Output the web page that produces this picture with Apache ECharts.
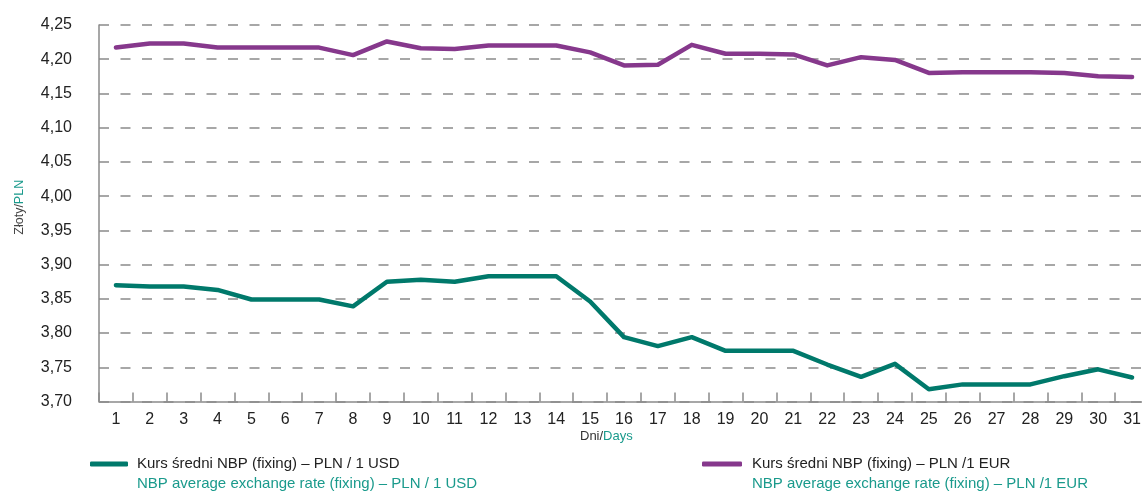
<!DOCTYPE html>
<html>
<head>
<meta charset="utf-8">
<script src="https://cdn.jsdelivr.net/npm/echarts@6/dist/echarts.min.js"></script>
<style>
html,body{margin:0;padding:0;background:#fff;}
#c{width:1142px;height:494px;}
</style>
</head>
<body>
<div id="c"></div>
<script>
const days = ['1','2','3','4','5','6','7','8','9','10','11','12','13','14','15','16','17','18','19','20','21','22','23','24','25','26','27','28','29','30','31'];
const usd = [3.870,3.868,3.868,3.863,3.849,3.849,3.849,3.839,3.875,3.878,3.875,3.883,3.883,3.883,3.846,3.794,3.781,3.794,3.774,3.774,3.774,3.754,3.736,3.755,3.718,3.725,3.725,3.725,3.737,3.747,3.735];
const eur = [4.217,4.223,4.223,4.217,4.217,4.217,4.217,4.206,4.226,4.216,4.215,4.220,4.220,4.220,4.210,4.191,4.192,4.221,4.208,4.208,4.207,4.191,4.203,4.199,4.180,4.181,4.181,4.181,4.180,4.175,4.174];
const usdName = 'Kurs średni NBP (fixing) – PLN / 1 USD';
const eurName = 'Kurs średni NBP (fixing) – PLN /1 EUR';
const usdName2 = 'NBP average exchange rate (fixing) – PLN / 1 USD';
const eurName2 = 'NBP average exchange rate (fixing) – PLN /1 EUR';

const FONT = '"Liberation Sans", Arial, sans-serif';
const TEAL = '#00796B';
const TEAL_T = '#1A9A8C';
const PURPLE = '#86388C';
const GRID = '#8a8a8a';

const chart = echarts.init(document.getElementById('c'), null, {renderer:'canvas'});
chart.setOption({
  animation: false,
  backgroundColor: '#fff',
  textStyle: {fontFamily: FONT},
  grid: {left: 99, top: 25, width: 1050, height: 376.5, containLabel: false, outerBoundsMode: 'none'},
  title: [
    {text: usdName2, left: 137, top: 475, textStyle: {fontFamily: FONT, fontSize: 15, fontWeight: 'normal', color: TEAL_T, lineHeight: 18}, padding: 0},
    {text: eurName2, left: 752, top: 475, textStyle: {fontFamily: FONT, fontSize: 15, fontWeight: 'normal', color: TEAL_T, lineHeight: 18}, padding: 0},
    {text: '{a|Dni/}{b|Days}', left: 580, top: 430, padding: 0,
     textStyle: {fontFamily: FONT, fontSize: 13, fontWeight: 'normal',
       rich: {a: {color: '#333', fontFamily: FONT, fontSize: 13}, b: {color: TEAL_T, fontFamily: FONT, fontSize: 13}}}}
  ],
  legend: [
    {data: [usdName], left: 90, top: 455, padding: 0, icon: 'roundRect', itemWidth: 38, itemHeight: 5,
     textStyle: {fontFamily: FONT, fontSize: 15, color: '#222', lineHeight: 18, padding: [0,0,0,4]}},
    {data: [eurName], left: 702, top: 455, padding: 0, icon: 'roundRect', itemWidth: 40, itemHeight: 5,
     textStyle: {fontFamily: FONT, fontSize: 15, color: '#222', lineHeight: 18, padding: [0,0,0,5]}}
  ],
  xAxis: {
    type: 'category',
    data: days,
    boundaryGap: true,
    axisLine: {lineStyle: {color: GRID, width: 1.5}},
    axisTick: {show: true, inside: true, length: 9, lineStyle: {color: GRID, width: 1.5}},
    axisLabel: {fontFamily: FONT, fontSize: 16, color: '#222', margin: 10},
    splitLine: {show: false}
  },
  yAxis: {
    type: 'value',
    min: 3.70, max: 4.25, interval: 0.05,
    name: '{a|Złoty/}{b|PLN}',
    nameLocation: 'middle',
    nameGap: 73,
    nameRotate: 90,
    nameTextStyle: {padding: [0, 0, 0, 12], rich: {a: {color: '#444', fontFamily: FONT, fontSize: 12.5}, b: {color: TEAL_T, fontFamily: FONT, fontSize: 12.5}}},
    axisLine: {show: true, lineStyle: {color: GRID, width: 1.5}},
    axisTick: {show: false},
    axisLabel: {fontFamily: FONT, fontSize: 16, color: '#222', margin: 27,
      formatter: v => v.toFixed(2).replace('.', ',')},
    splitLine: {show: true, lineStyle: {color: GRID, width: 1.5, type: [10, 11.5]}}
  },
  series: [
    {name: usdName, type: 'line', data: usd, symbol: 'none', color: TEAL,
     lineStyle: {width: 4.5, color: TEAL, cap: 'round', join: 'round'}},
    {name: eurName, type: 'line', data: eur, symbol: 'none', color: PURPLE,
     lineStyle: {width: 4.5, color: PURPLE, cap: 'round', join: 'round'}}
  ]
});
</script>
</body>
</html>
